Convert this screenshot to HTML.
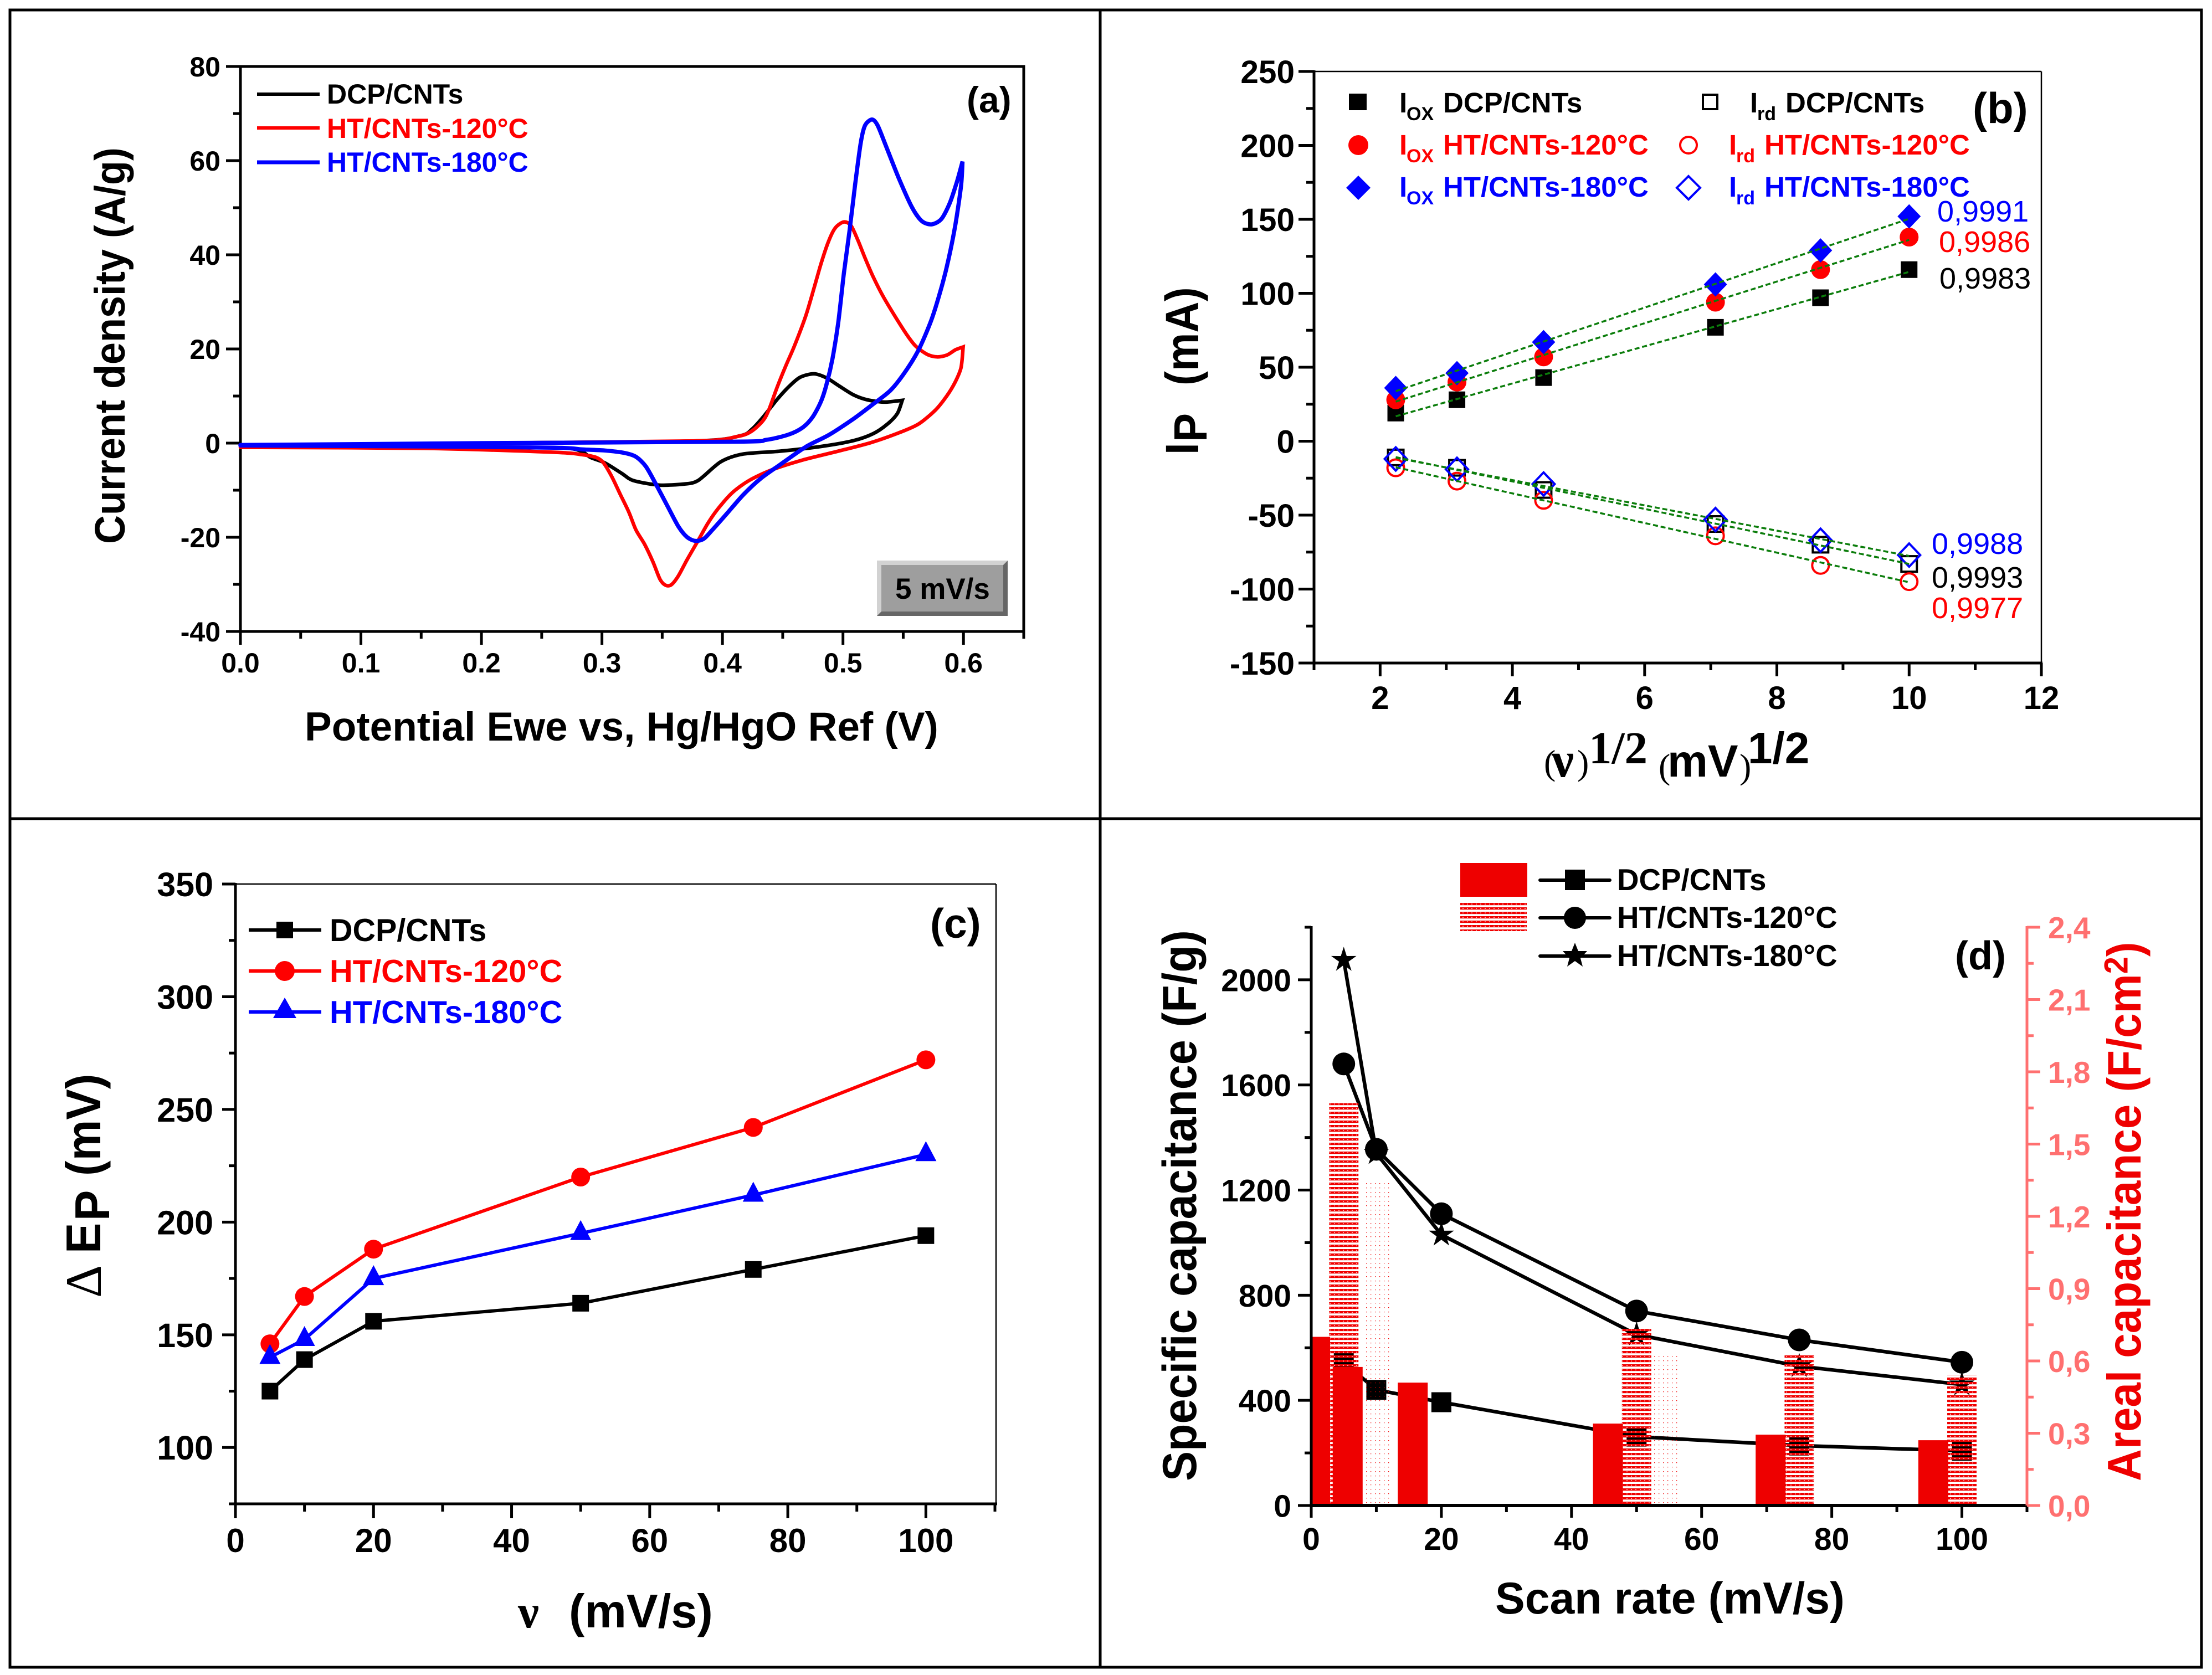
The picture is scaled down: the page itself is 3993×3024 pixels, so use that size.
<!DOCTYPE html>
<html lang="en">
<head>
<meta charset="utf-8">
<title>Electrochemical characterisation of DCP/CNTs and HT/CNTs</title>
<style>
html,body{margin:0;padding:0;background:#fff;}
svg{display:block;}
text{font-family:"Liberation Sans",Arial,sans-serif;font-weight:bold;white-space:pre;}
.serif{font-family:"Liberation Serif","Times New Roman",serif;}
.thin{font-weight:normal;}
</style>
</head>
<body>
<svg id="figure" xmlns="http://www.w3.org/2000/svg" width="3993" height="3024" viewBox="0 0 3993 3024">
<defs>
<pattern id="hatchDense" patternUnits="userSpaceOnUse" width="8" height="8" patternTransform="translate(0,7)">
<rect x="0" y="0" width="8" height="4.2" fill="#f00000"/>
<rect x="0" y="1.6" width="2" height="1.1" fill="#ffffff"/>
</pattern>
<pattern id="hatchLegend" patternUnits="userSpaceOnUse" width="8" height="8" patternTransform="translate(0,6)">
<rect x="0" y="0" width="8" height="4.2" fill="#f00000"/>
<rect x="0" y="1.6" width="2" height="1.1" fill="#ffffff"/>
</pattern>
<pattern id="hatchDots" patternUnits="userSpaceOnUse" width="8" height="8">
<rect x="2" y="0" width="1.3" height="1.3" fill="#f00000"/>
</pattern>
</defs>
<rect x="0" y="0" width="3993" height="3024" fill="#ffffff"/>
<g stroke="#000" stroke-width="5" fill="none">
<rect x="18" y="18" width="3956" height="2992"/>
<line x1="1986" y1="18" x2="1986" y2="3010"/>
<line x1="18" y1="1478" x2="3974" y2="1478"/>
</g>

<!-- Panel a -->
<g id="panelA">
<rect x="434" y="120" width="1414" height="1020" fill="none" stroke="#000" stroke-width="5"/>
<g id="aAxes"></g>
<g id="aSeries"></g>
<text font-size="72" transform="translate(225,982) rotate(-90) scale(1,1.07)">Current density (A/g)</text>
<text font-size="73" x="550" y="1337">Potential Ewe vs, Hg/HgO Ref (V)</text>
<g>
<line x1="464" y1="170" x2="577" y2="170" stroke="#000" stroke-width="6"/>
<line x1="464" y1="231" x2="577" y2="231" stroke="#ff0000" stroke-width="6"/>
<line x1="464" y1="293" x2="577" y2="293" stroke="#0000ff" stroke-width="7"/>
<text font-size="50" x="590" y="187">DCP/CNTs</text>
<text font-size="50" x="590" y="249" fill="#ff0000">HT/CNTs-120°C</text>
<text font-size="50" x="590" y="310" fill="#0000ff">HT/CNTs-180°C</text>
</g>
<text font-size="66" x="1745" y="203">(a)</text>
<g>
<rect x="1583" y="1012" width="236" height="100" fill="#d2d2d2"/>
<polygon points="1583,1112 1591,1104 1811,1104 1811,1020 1819,1012 1819,1112" fill="#666666"/>
<rect x="1591" y="1020" width="220" height="84" fill="#9e9e9e"/>
<text font-size="53" x="1616" y="1081">5 mV/s</text>
</g>
</g>

<!-- Panel b -->
<g id="panelB">
<line x1="2372" y1="129" x2="3685" y2="129" stroke="#000" stroke-width="2.5"/>
<line x1="3685" y1="129" x2="3685" y2="1197" stroke="#000" stroke-width="2.5"/>
<line x1="2372" y1="127" x2="2372" y2="1200" stroke="#000" stroke-width="5"/>
<line x1="2370" y1="1197" x2="3687" y2="1197" stroke="#000" stroke-width="5"/>
<g id="bAxes"></g>
<g id="bSeries"></g>
<g>
<text font-size="78" transform="translate(2163,821) rotate(-90) scale(1,1.08)">I</text>
<text font-size="78" transform="translate(2178,798) rotate(-90) scale(1,1.08)">P</text>
<text font-size="78" transform="translate(2163,696) rotate(-90) scale(1,1.08)">(mA)</text>
</g>
<g>
<text class="serif thin" font-size="64" x="2787" y="1398">(</text>
<text class="serif" font-size="90" x="2801" y="1402">ν</text>
<text class="serif thin" font-size="64" x="2847" y="1398">)</text>
<text class="serif" font-size="83" x="2868" y="1378">1/2</text>
<text class="serif thin" font-size="64" x="2994" y="1405">(</text>
<text font-size="82" x="3010" y="1402">mV</text>
<text class="serif thin" font-size="64" x="3140" y="1405">)</text>
<text font-size="80" x="3155" y="1378">1/2</text>
</g>
<g>
<rect x="2435" y="169" width="32" height="30" fill="#000"/>
<circle cx="2452" cy="262" r="18" fill="#ff0000"/>
<polygon points="2452,317 2474,339 2452,361 2430,339" fill="#0000ff"/>
<rect x="3074" y="171" width="26" height="26" fill="none" stroke="#000" stroke-width="4"/>
<circle cx="3048" cy="262" r="15" fill="none" stroke="#ff0000" stroke-width="4"/>
<polygon points="3048,318 3069,339 3048,360 3027,339" fill="none" stroke="#0000ff" stroke-width="4"/>
<text font-size="51" x="2526" y="203">I<tspan x="2539" y="217" font-size="34">OX</tspan><tspan x="2605" y="203">DCP/CNTs</tspan></text>
<text font-size="51" x="2526" y="279" fill="#ff0000">I<tspan x="2539" y="293" font-size="34">OX</tspan><tspan x="2605" y="279">HT/CNTs-120°C</tspan></text>
<text font-size="51" x="2526" y="355" fill="#0000ff">I<tspan x="2539" y="369" font-size="34">OX</tspan><tspan x="2605" y="355">HT/CNTs-180°C</tspan></text>
<text font-size="51" x="3159" y="203">I<tspan x="3172" y="217" font-size="34">rd</tspan><tspan x="3223" y="203">DCP/CNTs</tspan></text>
<text font-size="51" x="3121" y="279" fill="#ff0000">I<tspan x="3134" y="293" font-size="34">rd</tspan><tspan x="3185" y="279">HT/CNTs-120°C</tspan></text>
<text font-size="51" x="3121" y="355" fill="#0000ff">I<tspan x="3134" y="369" font-size="34">rd</tspan><tspan x="3185" y="355">HT/CNTs-180°C</tspan></text>
</g>
<text font-size="78" x="3561" y="222">(b)</text>
<g font-size="54">
<text class="thin" x="3497" y="400" fill="#0000ff">0,9991</text>
<text class="thin" x="3500" y="455" fill="#ff0000">0,9986</text>
<text class="thin" x="3501" y="521" fill="#000">0,9983</text>
<text class="thin" x="3487" y="1000" fill="#0000ff">0,9988</text>
<text class="thin" x="3487" y="1061" fill="#000">0,9993</text>
<text class="thin" x="3487" y="1116" fill="#ff0000">0,9977</text>
</g>
</g>

<!-- Panel c -->
<g id="panelC">
<line x1="425" y1="1596" x2="1798" y2="1596" stroke="#000" stroke-width="2.5"/>
<line x1="1798" y1="1596" x2="1798" y2="2715" stroke="#000" stroke-width="2.5"/>
<line x1="425" y1="1594" x2="425" y2="2718" stroke="#000" stroke-width="5"/>
<line x1="423" y1="2715" x2="1800" y2="2715" stroke="#000" stroke-width="5"/>
<g id="cAxes"></g>
<g id="cSeries"></g>
<g>
<text class="serif thin" font-size="92" transform="translate(182,2343) rotate(-90)">Δ</text>
<text font-size="83" transform="translate(181,2263) rotate(-90) scale(1,1.06)">E</text>
<text font-size="83" transform="translate(197,2204) rotate(-90) scale(1,1.06)">P</text>
<text font-size="83" transform="translate(181,2123) rotate(-90) scale(1,1.06)">(mV)</text>
</g>
<g>
<text class="serif" font-size="85" x="935" y="2938">ν</text>
<text font-size="85" x="1027" y="2938">(mV/s)</text>
</g>
<g>
<line x1="449" y1="1679" x2="580" y2="1679" stroke="#000" stroke-width="6"/>
<rect x="499" y="1664" width="30" height="30" fill="#000"/>
<line x1="449" y1="1753" x2="580" y2="1753" stroke="#ff0000" stroke-width="6"/>
<circle cx="514" cy="1753" r="18" fill="#ff0000"/>
<line x1="449" y1="1827" x2="580" y2="1827" stroke="#0000ff" stroke-width="6"/>
<polygon points="514,1801 535,1838 493,1838" fill="#0000ff"/>
<text font-size="57.5" x="595" y="1699">DCP/CNTs</text>
<text font-size="57.8" x="595" y="1773" fill="#ff0000">HT/CNTs-120°C</text>
<text font-size="57.8" x="595" y="1847" fill="#0000ff">HT/CNTs-180°C</text>
</g>
<text font-size="75" x="1679" y="1693">(c)</text>
</g>

<!-- Panel d -->
<g id="panelD">
<g id="dSeries"></g>
<g id="dBars"></g>
<line x1="2367" y1="1672" x2="2367" y2="2721" stroke="#000" stroke-width="5"/>
<line x1="2365" y1="2718" x2="3659" y2="2718" stroke="#000" stroke-width="6"/>
<line x1="3659" y1="1672" x2="3659" y2="2721" stroke="#ff7070" stroke-width="5"/>
<g id="dAxes"></g>
<text font-size="81" transform="translate(2159,2674) rotate(-90) scale(1,1.07)">Specific capacitance (F/g)</text>
<text font-size="80" fill="#ee0000" transform="translate(3864,2674) rotate(-90) scale(1,1.07)">Areal capacitance (F/cm<tspan dy="-22" font-size="56">2</tspan><tspan dy="22">)</tspan></text>
<text font-size="80.5" x="2699" y="2913">Scan rate (mV/s)</text>
<g>
<rect x="2636" y="1558" width="121" height="61" fill="#ee0000"/>
<rect x="2636" y="1630" width="120" height="51" fill="url(#hatchLegend)"/>
<line x1="2780" y1="1589" x2="2906" y2="1589" stroke="#000" stroke-width="6" stroke-linecap="round"/>
<rect x="2825" y="1570" width="36" height="37" fill="#000"/>
<line x1="2780" y1="1657" x2="2906" y2="1657" stroke="#000" stroke-width="6" stroke-linecap="round"/>
<circle cx="2843" cy="1657" r="20" fill="#000"/>
<line x1="2780" y1="1726" x2="2906" y2="1726" stroke="#000" stroke-width="6" stroke-linecap="round"/>
<polygon points="2843,1702 2849,1717 2865,1717 2853,1730 2857,1745 2843,1735 2829,1745 2833,1730 2821,1717 2837,1717" fill="#000"/>
<text font-size="54.7" x="2919" y="1607">DCP/CNTs</text>
<text font-size="54.7" x="2919" y="1675">HT/CNTs-120°C</text>
<text font-size="54.7" x="2919" y="1744">HT/CNTs-180°C</text>
</g>
<text font-size="72" x="3529" y="1750">(d)</text>
</g>
</svg>

<script>
// ---------- Panel (a): cyclic voltammograms (loop traced forward then back) ----------
const aBlackV = [0,0.2,0.3775,0.415,0.4244,0.4338,0.4455,0.4549,0.4643,0.476,0.4866,0.4971,0.5089,0.5206,0.5347,0.5492,0.5452,0.537,0.5253,0.5089,0.4831,0.4479,0.4174,0.3986,0.3798,0.3681,0.347,0.3259,0.3165,0.3024,0.2907,0.2813,0.2602,0.15,0];
const aBlackI = [-0.5,0,0.46,1.59,2.94,5.57,9.32,11.94,13.97,14.72,13.82,12.09,10.22,9.17,8.72,9.09,6.32,4.07,2.04,0.54,-0.66,-1.71,-2.31,-3.96,-7.94,-8.69,-8.91,-7.94,-6.44,-4.19,-3.06,-1.56,-0.96,-0.7,-0.6];
const aRedV = [0,0.2,0.3775,0.4127,0.4244,0.4338,0.4385,0.4455,0.4526,0.4596,0.469,0.476,0.4819,0.4878,0.4936,0.5007,0.5066,0.5124,0.5183,0.5253,0.5335,0.5441,0.5535,0.5605,0.5699,0.5781,0.5863,0.5933,0.5997,0.598,0.5933,0.5863,0.5769,0.5628,0.5464,0.523,0.4948,0.4666,0.4408,0.4221,0.408,0.3963,0.3881,0.3798,0.3705,0.3634,0.3576,0.3529,0.3482,0.3423,0.3353,0.3282,0.3224,0.3153,0.3083,0.3013,0.2954,0.2837,0.2602,0.15,0];
const aRedI = [-0.6,0,0.46,1.44,2.57,4.82,7.07,11.94,16.45,20.57,26.95,32.95,38.2,42.71,45.71,46.98,46.23,43.08,39.33,35.2,31.08,26.57,22.82,20.57,18.85,18.32,18.7,19.82,20.42,16.07,13.07,10.07,7.07,4.07,2.19,0.09,-1.79,-3.59,-5.69,-7.94,-10.57,-13.94,-16.94,-20.69,-24.82,-28.2,-30.07,-30.2,-28.94,-25.2,-21.44,-18.44,-14.69,-10.94,-7.19,-4.19,-3.06,-2.46,-1.94,-1.1,-0.9];
const aBlueV = [0,0.1,0.2,0.4103,0.4362,0.4549,0.4666,0.4749,0.4819,0.4866,0.4913,0.496,0.5007,0.5054,0.51,0.5147,0.5183,0.5241,0.5288,0.5359,0.5464,0.557,0.5652,0.5734,0.5816,0.5886,0.5945,0.5992,0.598,0.5933,0.5875,0.5816,0.5734,0.5628,0.5511,0.5394,0.5253,0.5089,0.4889,0.469,0.4479,0.4315,0.4174,0.4033,0.3916,0.3845,0.3775,0.3705,0.3634,0.354,0.3447,0.3364,0.3282,0.3189,0.3024,0.2837,0.2602,0.15,0];
const aBlueI = [-0.4,-0.2,0,0.31,0.69,1.82,3.32,5.57,8.94,12.7,17.95,25.45,35.95,44.96,54.71,63.72,67.47,68.74,67.47,62.96,56.21,50.21,47.21,46.46,47.58,50.96,55.46,59.81,54.71,46.46,38.95,32.95,26.2,19.82,14.95,11.2,8.34,5.19,1.82,-0.81,-4.56,-7.56,-10.94,-15.07,-18.44,-20.32,-20.77,-19.94,-17.69,-13.19,-8.69,-4.94,-2.91,-2.09,-1.56,-1.34,-0.96,-0.7,-0.5];
const aXMajor = [0,0.1,0.2,0.3,0.4,0.5,0.6];
const aXLabels = ['0.0','0.1','0.2','0.3','0.4','0.5','0.6'];
const aXMinor = [0.05,0.15,0.25,0.35,0.45,0.55,0.65];
const aYMajor = [-40,-20,0,20,40,60,80];
const aYLabels = ['-40','-20','0','20','40','60','80'];
const aYMinor = [-30,-10,10,30,50,70];

// ---------- Panel (b): peak currents vs square root of scan rate ----------
const bRootRate = [2.236,3.162,4.472,7.071,8.66,10];
const bOxDcp = [19,28,43,77,97,116];
const bOx120 = [28,40,57,94,116,138];
const bOx180 = [36,46,67,106,129,152];
const bRdDcp = [-11,-18,-33,-56,-70,-83];
const bRd120 = [-18,-27,-40,-64,-84,-95];
const bRd180 = [-12,-19,-29,-53,-67,-77];
const bXMajor = [2,4,6,8,10,12];
const bXLabels = ['2','4','6','8','10','12'];
const bXMinor = [1,3,5,7,9,11];
const bYMajor = [-150,-100,-50,0,50,100,150,200,250];
const bYLabels = ['-150','-100','-50','0','50','100','150','200','250'];
const bYMinor = [-125,-75,-25,25,75,125,175,225];

// ---------- Panel (c): peak separation vs scan rate ----------
const cRate = [5,10,20,50,75,100];
const cDcp = [125,139,156,164,179,194];
const cHt120 = [146,167,188,220,242,272];
const cHt180 = [140,148,175,195,212,230];
const cXMajor = [0,20,40,60,80,100];
const cXLabels = ['0','20','40','60','80','100'];
const cXMinor = [10,30,50,70,90,110];
const cYMajor = [100,150,200,250,300,350];
const cYLabels = ['100','150','200','250','300','350'];
const cYMinor = [75,125,175,225,275,325];

// ---------- Panel (d): specific and areal capacitance ----------
const dRate = [5,10,20,50,75,100];
const dDcp = [545,440,393,262,228,208];
const dHt120 = [1680,1355,1110,740,630,545];
const dHt180 = [2075,1340,1030,650,530,460];
const dSolidCenters = [0.6,5.6,15.6,45.6,70.6,95.6];
const dSolidAreal = [0.70,0.575,0.51,0.34,0.294,0.271];
const dHatchCenters = [5,50,75,100];
const dHatchAreal = [1.67,0.733,0.623,0.54];
const dDotCenters = [10.2,54.4];
const dDotAreal = [1.338,0.627];
const dXMajor = [0,20,40,60,80,100];
const dXLabels = ['0','20','40','60','80','100'];
const dXMinor = [10,30,50,70,90,110];
const dYMajor = [0,400,800,1200,1600,2000];
const dYLabels = ['0','400','800','1200','1600','2000'];
const dYMinor = [200,600,1000,1400,1800,2200];
const dRightMajor = [0,0.3,0.6,0.9,1.2,1.5,1.8,2.1,2.4];
const dRightLabels = ['0,0','0,3','0,6','0,9','1,2','1,5','1,8','2,1','2,4'];
const dRightMinor = [0.15,0.45,0.75,1.05,1.35,1.65,1.95,2.25];

const SVGNS = 'http://www.w3.org/2000/svg';

function linear(d0, d1, r0, r1) {
  return function (v) { return r0 + (v - d0) * (r1 - r0) / (d1 - d0); };
}

function mk(parent, tag, attrs, name) {
  const el = document.createElementNS(SVGNS, tag);
  Object.keys(attrs).forEach(function (k) { el.setAttribute(k, attrs[k]); });
  
  
  parent.appendChild(el);
  return el;
}

function label(parent, x, y, str, size, anchor, fill, name) {
  const el = mk(parent, 'text', { x: x, y: y, 'font-size': size, 'text-anchor': anchor, fill: fill }, name);
  el.textContent = str;
  return el;
}

function xAxis(g, sx, yAxisPos, major, labels, minor, opt) {
  major.forEach(function (v, i) {
    mk(g, 'line', { x1: sx(v), x2: sx(v), y1: yAxisPos, y2: yAxisPos + opt.major, stroke: '#000', 'stroke-width': 5 }, 'x-major-tick');
    label(g, sx(v), opt.labelY, labels[i], opt.size, 'middle', '#000', 'x-tick-label');
  });
  minor.forEach(function (v) {
    mk(g, 'line', { x1: sx(v), x2: sx(v), y1: yAxisPos, y2: yAxisPos + opt.minor, stroke: '#000', 'stroke-width': 5 }, 'x-minor-tick');
  });
}

function yAxis(g, sy, xPos, major, labels, minor, opt) {
  const dir = opt.dir || -1;
  const color = opt.color || '#000';
  major.forEach(function (v, i) {
    mk(g, 'line', { x1: xPos, x2: xPos + dir * opt.major, y1: sy(v), y2: sy(v), stroke: color, 'stroke-width': 5 }, 'y-major-tick');
    label(g, opt.labelX, sy(v) + opt.size * 0.36, labels[i], opt.size, opt.anchor || 'end', color, 'y-tick-label');
  });
  minor.forEach(function (v) {
    mk(g, 'line', { x1: xPos, x2: xPos + dir * opt.minor, y1: sy(v), y2: sy(v), stroke: color, 'stroke-width': 5 }, 'y-minor-tick');
  });
}

function poly(g, xs, ys, sx, sy, color, width, name) {
  const pts = xs.map(function (x, i) { return sx(x).toFixed(1) + ',' + sy(ys[i]).toFixed(1); }).join(' ');
  return mk(g, 'polyline', { points: pts, fill: 'none', stroke: color, 'stroke-width': width, 'stroke-linejoin': 'round', 'stroke-linecap': 'round' }, name);
}

// Smooth spline through a voltammogram; the vertex at the switching potential stays sharp.
function splineSegment(pts) {
  let d = '';
  for (let i = 0; i < pts.length - 1; i++) {
    const p0 = pts[Math.max(i - 1, 0)];
    const p1 = pts[i];
    const p2 = pts[i + 1];
    const p3 = pts[Math.min(i + 2, pts.length - 1)];
    const k = 0.14;
    const c1x = p1[0] + (p2[0] - p0[0]) * k;
    const c1y = p1[1] + (p2[1] - p0[1]) * k;
    const c2x = p2[0] - (p3[0] - p1[0]) * k;
    const c2y = p2[1] - (p3[1] - p1[1]) * k;
    d += ' C' + c1x.toFixed(1) + ' ' + c1y.toFixed(1) + ' ' + c2x.toFixed(1) + ' ' + c2y.toFixed(1) + ' ' + p2[0].toFixed(1) + ' ' + p2[1].toFixed(1);
  }
  return d;
}

function loopCurve(g, xs, ys, sx, sy, color, width, name) {
  const pts = xs.map(function (x, i) { return [sx(x), sy(ys[i])]; });
  let tip = 0;
  xs.forEach(function (x, i) { if (x > xs[tip]) { tip = i; } });
  const d = 'M' + pts[0][0].toFixed(1) + ' ' + pts[0][1].toFixed(1) + splineSegment(pts.slice(0, tip + 1)) + splineSegment(pts.slice(tip));
  return mk(g, 'path', { d: d, fill: 'none', stroke: color, 'stroke-width': width, 'stroke-linejoin': 'miter', 'stroke-linecap': 'round' }, name);
}

function squareMark(g, cx, cy, half, fill, stroke, name) {
  return mk(g, 'rect', { x: cx - half, y: cy - half, width: half * 2, height: half * 2, fill: fill, stroke: stroke, 'stroke-width': stroke === 'none' ? 0 : 4 }, name);
}
function circleMark(g, cx, cy, r, fill, stroke, name) {
  return mk(g, 'circle', { cx: cx, cy: cy, r: r, fill: fill, stroke: stroke, 'stroke-width': stroke === 'none' ? 0 : 4 }, name);
}
function diamondMark(g, cx, cy, hw, hh, fill, stroke, name) {
  const pts = [cx, cy - hh, cx + hw, cy, cx, cy + hh, cx - hw, cy].join(' ');
  return mk(g, 'polygon', { points: pts, fill: fill, stroke: stroke, 'stroke-width': stroke === 'none' ? 0 : 4 }, name);
}
function triangleMark(g, cx, cy, hw, fill, name) {
  const pts = [cx, cy - 24, cx + hw, cy + 12, cx - hw, cy + 12].join(' ');
  return mk(g, 'polygon', { points: pts, fill: fill }, name);
}
function starMark(g, cx, cy, R, r, fill, name) {
  const pts = [];
  for (let i = 0; i < 10; i++) {
    const rad = i % 2 === 0 ? R : r;
    const ang = -Math.PI / 2 + i * Math.PI / 5;
    pts.push((cx + rad * Math.cos(ang)).toFixed(1) + ',' + (cy + rad * Math.sin(ang)).toFixed(1));
  }
  return mk(g, 'polygon', { points: pts.join(' '), fill: fill }, name);
}

function leastSquares(xs, ys) {
  const n = xs.length;
  const mx = xs.reduce(function (a, b) { return a + b; }, 0) / n;
  const my = ys.reduce(function (a, b) { return a + b; }, 0) / n;
  let num = 0, den = 0;
  xs.forEach(function (x, i) { num += (x - mx) * (ys[i] - my); den += (x - mx) * (x - mx); });
  const m = num / den;
  return function (x) { return my + m * (x - mx); };
}

// Panel a
(function () {
  const sx = linear(0, 0.65, 434, 1848);
  const sy = linear(-40, 80, 1140, 120);
  const axes = document.getElementById('aAxes');
  xAxis(axes, sx, 1140, aXMajor, aXLabels, aXMinor, { major: 24, minor: 13, labelY: 1214, size: 50 });
  yAxis(axes, sy, 434, aYMajor, aYLabels, aYMinor, { major: 26, minor: 13, labelX: 398, size: 50 });
  const g = document.getElementById('aSeries');
  loopCurve(g, aBlackV, aBlackI, sx, sy, '#000000', 6.5, 'curve-dcp-cnts');
  loopCurve(g, aRedV, aRedI, sx, sy, '#ff0000', 6.5, 'curve-ht-120');
  loopCurve(g, aBlueV, aBlueI, sx, sy, '#0000ff', 7.5, 'curve-ht-180');
})();

// Panel b
(function () {
  const sx = linear(1, 12, 2372, 3685);
  const sy = linear(-150, 250, 1197, 129);
  const axes = document.getElementById('bAxes');
  xAxis(axes, sx, 1197, bXMajor, bXLabels, bXMinor, { major: 24, minor: 13, labelY: 1280, size: 58 });
  yAxis(axes, sy, 2372, bYMajor, bYLabels, bYMinor, { major: 28, minor: 14, labelX: 2337, size: 58.5 });
  const g = document.getElementById('bSeries');
  bRootRate.forEach(function (x, i) {
    squareMark(g, sx(x), sy(bOxDcp[i]), 15, '#000', 'none', 'point-iox-dcp');
    circleMark(g, sx(x), sy(bOx120[i]), 17, '#ff0000', 'none', 'point-iox-120');
    diamondMark(g, sx(x), sy(bOx180[i]), 21, 22, '#0000ff', 'none', 'point-iox-180');
  });
  bRootRate.forEach(function (x, i) {
    squareMark(g, sx(x), sy(bRdDcp[i]), 14, 'none', '#000', 'point-ird-dcp');
    circleMark(g, sx(x), sy(bRd120[i]), 15, 'none', '#ff0000', 'point-ird-120');
    diamondMark(g, sx(x), sy(bRd180[i]), 20, 21, 'none', '#0000ff', 'point-ird-180');
  });
  [bOxDcp, bOx120, bOx180, bRdDcp, bRd120, bRd180].forEach(function (ys) {
    const fit = leastSquares(bRootRate, ys);
    const x0 = bRootRate[0];
    const x1 = bRootRate[bRootRate.length - 1];
    mk(g, 'line', { x1: sx(x0), y1: sy(fit(x0)), x2: sx(x1), y2: sy(fit(x1)), stroke: '#0b7d0b', 'stroke-width': 3.5, 'stroke-dasharray': '9 5' }, 'linear-fit-line');
  });
})();

// Panel c
(function () {
  const sx = linear(0, 110, 425, 1796);
  const sy = linear(75, 350, 2715, 1596);
  const axes = document.getElementById('cAxes');
  xAxis(axes, sx, 2715, cXMajor, cXLabels, cXMinor, { major: 26, minor: 14, labelY: 2802, size: 60 });
  yAxis(axes, sy, 425, cYMajor, cYLabels, cYMinor, { major: 24, minor: 12, labelX: 385, size: 61 });
  const g = document.getElementById('cSeries');
  poly(g, cRate, cDcp, sx, sy, '#000', 6, 'line-dcp-cnts');
  cRate.forEach(function (x, i) { squareMark(g, sx(x), sy(cDcp[i]), 15, '#000', 'none', 'point-dcp-cnts'); });
  poly(g, cRate, cHt120, sx, sy, '#ff0000', 6, 'line-ht-120');
  cRate.forEach(function (x, i) { circleMark(g, sx(x), sy(cHt120[i]), 17, '#ff0000', 'none', 'point-ht-120'); });
  poly(g, cRate, cHt180, sx, sy, '#0000ff', 6, 'line-ht-180');
  cRate.forEach(function (x, i) { triangleMark(g, sx(x), sy(cHt180[i]), 19, '#0000ff', 'point-ht-180'); });
})();

// Panel d
(function () {
  const sx = linear(0, 110, 2367, 3659);
  const syLeft = linear(0, 2200, 2718, 1674);
  const syRight = linear(0, 2.4, 2718, 1674);
  const axes = document.getElementById('dAxes');
  xAxis(axes, sx, 2718, dXMajor, dXLabels, dXMinor, { major: 22, minor: 12, labelY: 2798, size: 57 });
  yAxis(axes, syLeft, 2367, dYMajor, dYLabels, dYMinor, { major: 24, minor: 12, labelX: 2331, size: 57 });
  yAxis(axes, syRight, 3659, dRightMajor, dRightLabels, dRightMinor, { major: 24, minor: 12, labelX: 3697, size: 55, dir: 1, color: '#ff7070', anchor: 'start' });

  const g = document.getElementById('dSeries');
  poly(g, dRate, dDcp, sx, syLeft, '#000', 6.5, 'line-dcp-cnts');
  poly(g, dRate, dHt120, sx, syLeft, '#000', 6.5, 'line-ht-120');
  poly(g, dRate, dHt180, sx, syLeft, '#000', 6.5, 'line-ht-180');
  dRate.forEach(function (x, i) {
    squareMark(g, sx(x), syLeft(dDcp[i]), 18, '#000', 'none', 'point-dcp-cnts');
    circleMark(g, sx(x), syLeft(dHt120[i]), 20.5, '#000', 'none', 'point-ht-120');
    starMark(g, sx(x), syLeft(dHt180[i]), 24, 9, '#000', 'point-ht-180');
  });

  const bars = document.getElementById('dBars');
  const floorY = syRight(0);
  dDotCenters.forEach(function (c, i) {
    const w = 46;
    mk(bars, 'rect', { x: sx(c) - w / 2, y: syRight(dDotAreal[i]), width: w, height: floorY - syRight(dDotAreal[i]), fill: 'url(#hatchDots)' }, 'bar-dotted');
  });
  dHatchCenters.forEach(function (c, i) {
    const w = 53;
    mk(bars, 'rect', { x: sx(c) - w / 2, y: syRight(dHatchAreal[i]), width: w, height: floorY - syRight(dHatchAreal[i]), fill: 'url(#hatchDense)' }, 'bar-hatched');
  });
  dSolidCenters.forEach(function (c, i) {
    const w = 54;
    const left = Math.max(sx(c) - w / 2, 2367);
    const right = sx(c) + w / 2;
    mk(bars, 'rect', { x: left, y: syRight(dSolidAreal[i]), width: right - left, height: floorY - syRight(dSolidAreal[i]), fill: '#ee0000' }, 'bar-solid');
  });
})();
</script>
</body>
</html>
